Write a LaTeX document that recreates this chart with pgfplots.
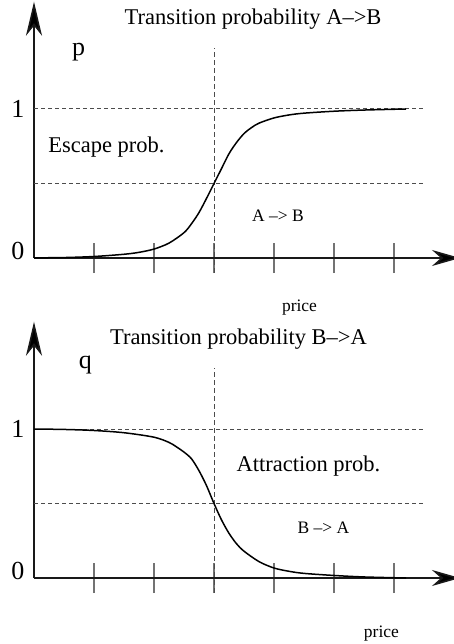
\documentclass[border=0pt]{standalone}
\usepackage{pgfplots}
\pgfplotsset{compat=1.18}
\usetikzlibrary{arrows.meta}
\usepackage{fontspec}
\setmainfont{Liberation Serif}
\newcommand{\bigf}{\fontsize{26pt}{30pt}\selectfont}
\newcommand{\medf}{\fontsize{22.5pt}{26pt}\selectfont}
\newcommand{\smlf}{\fontsize{17.5pt}{20pt}\selectfont}
\pgfplotsset{
  myaxis/.style={
    x=60pt, y=149pt,
    xmin=0, xmax=7.1, ymin=0, ymax=1.72,
    axis lines=left,
    axis line style={line width=1.6pt, draw=black!90},
    x axis line style={-{Stealth[length=28pt,width=16pt,inset=9pt,fill=black]}},
    y axis line style={-{Stealth[length=34pt,width=16pt,inset=10pt,fill=black]}},
    xtick={1,2,3,4,5,6}, xticklabels={},
    ytick=\empty,
    tick align=center,
    major tick length=30pt,
    x tick style={line width=1.2pt, draw=black!55},
    clip=false,
    anchor=origin,
  },
  hdash/.style={draw=black!70, line width=1pt, dash pattern=on 4pt off 3pt},
  vdash/.style={draw=black!70, line width=1pt, dash pattern=on 5pt off 3pt},
  curve/.style={black, line width=1.5pt, smooth, mark=none},
}
\begin{document}
\begin{tikzpicture}
\path[use as bounding box] (-34pt,258pt) rectangle (419pt,-386pt);
% ---------- top panel ----------
\begin{axis}[myaxis, at={(0pt,0pt)}]
\addplot[hdash] coordinates {(0,1) (6.5,1)};
\addplot[hdash] coordinates {(0,0.5) (6.5,0.5)};
\addplot[vdash] coordinates {(3,-0.1) (3,1.41)};
\addplot[curve] coordinates {
(0,0.001) (0.5,0.003) (1,0.010) (1.5,0.025) (1.75,0.038) (2,0.060)
(2.25,0.100) (2.5,0.170) (2.625,0.23) (2.75,0.305) (2.875,0.40) (3,0.50)
(3.125,0.60) (3.25,0.70) (3.375,0.775) (3.5,0.835) (3.625,0.875)
(3.75,0.905) (4,0.94) (4.25,0.96) (4.5,0.972) (5,0.985) (5.5,0.993) (6.2,1.0)};
\node[anchor=base] at (axis cs:3.65,1.564) {\medf Transition probability A-->B};
\node[anchor=base] at (axis cs:0.742,1.362) {\bigf p};
\node at (axis cs:-0.267,1.003) {\bigf 1};
\node at (axis cs:-0.267,0.047) {\bigf 0};
\node[anchor=base] at (axis cs:1.208,0.711) {\medf Escape prob.};
\node[anchor=base] at (axis cs:4.067,0.242) {\smlf A --> B};
\node[anchor=base] at (axis cs:4.425,-0.356) {\smlf price};
\end{axis}
% ---------- bottom panel ----------
\begin{axis}[myaxis, at={(0pt,-320pt)}]
\addplot[hdash] coordinates {(0,1) (6.5,1)};
\addplot[hdash] coordinates {(0,0.5) (6.5,0.5)};
\addplot[vdash] coordinates {(3,-0.1) (3,1.41)};
\addplot[curve] coordinates {
(0,1.0) (0.5,0.997) (1,0.99) (1.5,0.975) (2,0.945) (2.25,0.91)
(2.375,0.88) (2.5,0.845) (2.625,0.80) (2.75,0.72) (2.875,0.62) (3,0.5)
(3.125,0.39) (3.25,0.30) (3.375,0.23) (3.5,0.18) (3.75,0.11) (4,0.067)
(4.25,0.045) (4.5,0.031) (5,0.017) (5.5,0.007) (6.2,0.0)};
\node[anchor=base] at (axis cs:3.408,1.564) {\medf Transition probability B-->A};
\node[anchor=base] at (axis cs:0.858,1.403) {\bigf q};
\node at (axis cs:-0.267,1.003) {\bigf 1};
\node at (axis cs:-0.267,0.047) {\bigf 0};
\node[anchor=base] at (axis cs:4.575,0.718) {\medf Attraction prob.};
\node[anchor=base] at (axis cs:4.825,0.302) {\smlf B --> A};
\node[anchor=base] at (axis cs:5.79,-0.396) {\smlf price};
\end{axis}
\end{tikzpicture}
\end{document}
